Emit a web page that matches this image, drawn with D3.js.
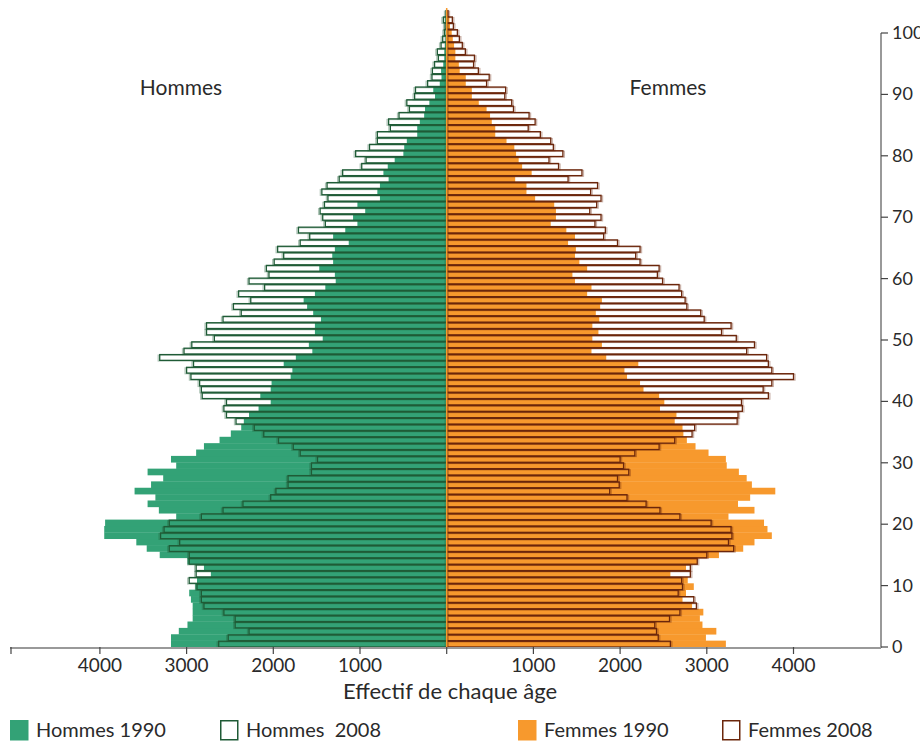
<!DOCTYPE html>
<html>
<head>
<meta charset="utf-8">
<script src="https://cdn.jsdelivr.net/npm/d3@7"></script>
<style>
  body { margin: 0; background: #fff; }
  text { font-family: Lato, "Open Sans", sans-serif; fill: #2a2a2a; }
</style>
</head>
<body>
<script>
// Pyramide des âges 1990 / 2008

// Data (index = âge, 0 à 99)
const ages = d3.range(0, 100);

const hommes1990 = [
  3180, 3180, 3090, 2990, 2930, 2930, 2930, 2950, 2970, 2900,
  2880, 2720, 2800, 2990, 3310, 3460, 3580, 3950, 3950, 3940,
  3120, 3320, 3450, 3360, 3600, 3410, 3270, 3450, 3120, 3180,
  2890, 2800, 2620, 2490, 2370, 2340, 2280, 2170, 2030, 2150,
  2030, 2020, 1800, 1780, 1880, 1740, 1550, 1590, 1430, 1520,
  1520, 1450, 1540, 1610, 1650, 1520, 1400, 1280, 1290, 1470,
  1310, 1320, 1290, 1130, 1310, 1170, 1030, 1080, 940, 1030,
  770, 800, 770, 670, 730, 680, 600, 500, 490, 460,
  340, 340, 310, 260, 250, 200, 135, 155, 80, 60,
  65, 40, 27, 27, 20, 15, 12, 10, 19, 5
];

const hommes2008 = [
  2630, 2520, 2280, 2440, 2440, 2570, 2800, 2830, 2830, 2880,
  2970, 2890, 2890, 2970, 2970, 3200, 3080, 3300, 3260, 3200,
  2830, 2580, 2350, 2030, 1970, 1830, 1830, 1560, 1560, 1490,
  1690, 1770, 1940, 2110, 2220, 2430, 2540, 2570, 2540, 2820,
  2830, 2850, 2950, 3000, 2920, 3310, 3030, 2940, 2680, 2770,
  2770, 2580, 2370, 2460, 2260, 2400, 2100, 2280, 2050, 2080,
  1990, 1880, 1950, 1690, 1580, 1710, 1400, 1430, 1460, 1410,
  1370, 1440, 1380, 1240, 1200, 980, 930, 1050, 890, 800,
  800, 650, 670, 550, 430, 460, 370, 360, 220, 170,
  165, 140, 96, 108, 65, 46, 27, 19, 38, 8
];

const femmes1990 = [
  3220, 2990, 3110, 2950, 2920, 2960, 2830, 2720, 2760, 2850,
  2780, 2580, 2760, 2890, 3140, 3420, 3550, 3750, 3700, 3660,
  3250, 3550, 3360, 3500, 3790, 3520, 3460, 3370, 3230, 3220,
  3020, 2870, 2770, 2730, 2720, 2630, 2650, 2460, 2510, 2450,
  2270, 2230, 2080, 2050, 2210, 1840, 1670, 1790, 1680, 1750,
  1680, 1760, 1720, 1770, 1790, 1620, 1670, 1480, 1450, 1620,
  1530, 1480, 1490, 1400, 1480, 1380, 1200, 1260, 1260, 1240,
  1020, 920, 920, 790, 980, 870, 830, 800, 780, 690,
  560, 560, 520, 500, 460, 370, 290, 290, 220, 220,
  150, 140, 100, 100, 85, 70, 58, 38, 31, 10
];

const femmes2008 = [
  2580, 2440, 2420, 2400, 2570, 2690, 2880, 2850, 2670, 2720,
  2710, 2810, 2810, 2890, 3000, 3310, 3250, 3290, 3280, 3050,
  2690, 2460, 2300, 2080, 1880, 1990, 1970, 2100, 2040, 2000,
  2170, 2450, 2630, 2830, 2860, 3350, 3360, 3410, 3400, 3710,
  3650, 3750, 4000, 3750, 3710, 3690, 3460, 3550, 3340, 3170,
  3280, 2970, 2930, 2770, 2750, 2710, 2680, 2490, 2430, 2450,
  2230, 2180, 2230, 1970, 1810, 1830, 1710, 1780, 1650, 1730,
  1780, 1660, 1740, 1400, 1560, 1290, 1180, 1340, 1230, 1200,
  1080, 940, 1020, 950, 770, 750, 670, 680, 460, 490,
  365, 310, 320, 215, 180, 146, 123, 77, 65, 15
];

const xTicks = [1000, 2000, 3000, 4000];
const ageTicks = d3.range(0, 101, 10);

// Dimensions
const width = 920;
const height = 743;
const center = 446.7;
const half = 346.8;
const baseY = 647;
const axisX = 881;

const colH = "#33a276", colH08 = "#1f5b36";
const colF = "#f7992d", colF08 = "#6b260b";

const svg = d3.select("body")
  .append("svg")
  .attr("width", width)
  .attr("height", height);

// Scales
const xLeft = d3.scaleLinear().domain([0, 4000]).range([center, center - half]);
const xRight = d3.scaleLinear().domain([0, 4000]).range([center, center + half]);
const yBand = d3.scaleBand().domain(ages).range([baseY, 10]).padding(0);
const yAge = d3.scaleLinear().domain([0, 100]).range([baseY, 33]);

// 1990 bars (filled)
svg.append("g").selectAll("rect")
  .data(ages)
  .join("rect")
    .attr("x", d => xLeft(hommes1990[d]))
    .attr("y", d => yBand(d))
    .attr("width", d => center - xLeft(hommes1990[d]))
    .attr("height", yBand.bandwidth() + 0.3)
    .attr("fill", colH);

svg.append("g").selectAll("rect")
  .data(ages)
  .join("rect")
    .attr("x", center)
    .attr("y", d => yBand(d))
    .attr("width", d => xRight(femmes1990[d]) - center)
    .attr("height", yBand.bandwidth() + 0.3)
    .attr("fill", colF);

// 2008 bars: faint shadow then outline
function outline2008(values, scale, side, color) {
  const g = svg.append("g");
  g.selectAll(".shadow")
    .data(ages)
    .join("rect")
      .attr("class", "shadow")
      .attr("x", d => Math.min(scale(values[d]), center) + side * 1.5)
      .attr("y", d => yBand(d) + 1.2)
      .attr("width", d => Math.abs(scale(values[d]) - center))
      .attr("height", yBand.bandwidth() - 0.6)
      .attr("fill", "none")
      .attr("stroke", color)
      .attr("stroke-opacity", 0.35)
      .attr("stroke-width", 1.3);
  g.selectAll(".out")
    .data(ages)
    .join("rect")
      .attr("class", "out")
      .attr("x", d => Math.min(scale(values[d]), center))
      .attr("y", d => yBand(d) + 0.6)
      .attr("width", d => Math.abs(scale(values[d]) - center))
      .attr("height", yBand.bandwidth() - 0.6)
      .attr("fill", "none")
      .attr("stroke", color)
      .attr("stroke-width", 1.3);
}
outline2008(hommes2008, xLeft, -1, colH08);
outline2008(femmes2008, xRight, 1, colF08);

// center line
svg.append("line")
  .attr("x1", center).attr("x2", center)
  .attr("y1", 8).attr("y2", baseY)
  .attr("stroke", colF).attr("stroke-width", 1.5);

// Bottom axis
const bottom = svg.append("g");
bottom.append("line")
  .attr("x1", 10).attr("x2", axisX)
  .attr("y1", baseY + 1).attr("y2", baseY + 1)
  .attr("stroke", "#999").attr("stroke-width", 2);
const bTicks = [{v: 0, s: xRight}]
  .concat(xTicks.map(v => ({v: v, s: xLeft})))
  .concat(xTicks.map(v => ({v: v, s: xRight})));
bottom.selectAll(".tk")
  .data(bTicks)
  .join("line")
    .attr("x1", d => d.s(d.v)).attr("x2", d => d.s(d.v))
    .attr("y1", baseY).attr("y2", baseY + 7)
    .attr("stroke", "#444").attr("stroke-width", 1.2);
bottom.selectAll(".lb")
  .data(bTicks.filter(d => d.v > 0))
  .join("text")
    .attr("x", d => d.s(d.v))
    .attr("y", 672)
    .attr("text-anchor", "middle")
    .attr("font-size", "19px")
    .text(d => d.v);
bottom.append("line")
  .attr("x1", 11).attr("x2", 11)
  .attr("y1", baseY).attr("y2", baseY + 7)
  .attr("stroke", "#444").attr("stroke-width", 1.2);

svg.append("text")
  .attr("x", 450).attr("y", 699)
  .attr("text-anchor", "middle")
  .attr("font-size", "22px")
  .text("Effectif de chaque âge");

// Right axis (âges)
const right = svg.append("g");
right.append("line")
  .attr("x1", axisX).attr("x2", axisX)
  .attr("y1", yAge(100)).attr("y2", baseY + 1)
  .attr("stroke", "#999").attr("stroke-width", 2);
right.selectAll(".tk")
  .data(ageTicks)
  .join("line")
    .attr("x1", axisX).attr("x2", axisX + 7)
    .attr("y1", d => yAge(d)).attr("y2", d => yAge(d))
    .attr("stroke", "#444").attr("stroke-width", 1.2);
right.selectAll(".lb")
  .data(ageTicks)
  .join("text")
    .attr("x", axisX + 11)
    .attr("y", d => yAge(d) + 6)
    .attr("font-size", "18px")
    .text(d => d);

// Titles
svg.append("text").attr("x", 181).attr("y", 95)
  .attr("text-anchor", "middle").attr("font-size", "21px").text("Hommes");
svg.append("text").attr("x", 668).attr("y", 95)
  .attr("text-anchor", "middle").attr("font-size", "21px").text("Femmes");

// Legend
const legend = [
  {label: "Hommes 1990", x: 10, fill: colH, stroke: colH},
  {label: "Hommes\u00a0 2008", x: 220, fill: "#fff", stroke: colH08},
  {label: "Femmes 1990", x: 518, fill: colF, stroke: colF},
  {label: "Femmes 2008", x: 722, fill: "#fff", stroke: colF08}
];
const lg = svg.append("g").selectAll("g")
  .data(legend)
  .join("g")
    .attr("transform", d => `translate(${d.x}, 720)`);
lg.append("rect")
  .attr("x", 0.75).attr("y", 0.75)
  .attr("width", 17).attr("height", 19)
  .attr("fill", d => d.fill)
  .attr("stroke", d => d.stroke).attr("stroke-width", 1.5);
lg.append("text")
  .attr("x", 26).attr("y", 17)
  .attr("font-size", "20px")
  .text(d => d.label);
</script>
</body>
</html>
